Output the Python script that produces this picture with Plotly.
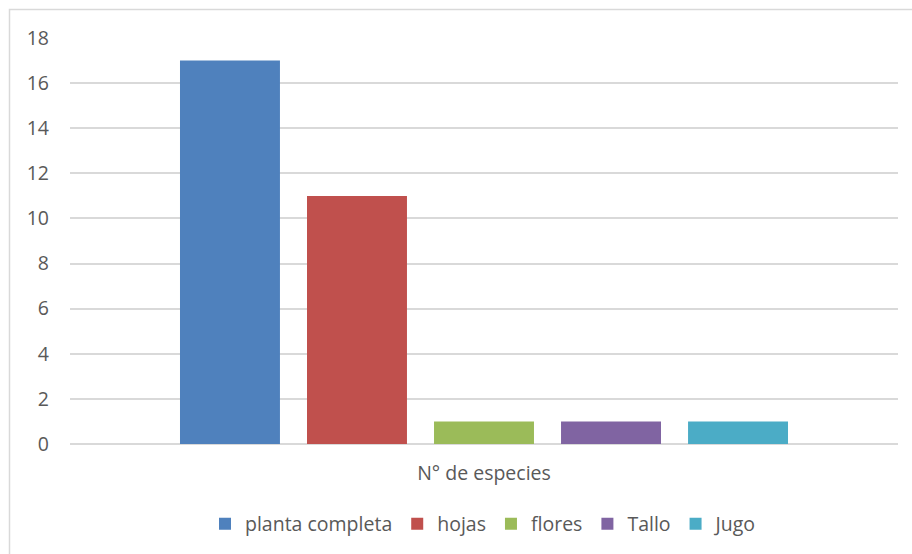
import plotly.graph_objects as go

category = ["N° de especies"]
series_names = ["planta completa", "hojas", "flores", "Tallo", "Jugo"]
series_values = [17, 11, 1, 1, 1]
series_colors = ["#4f81bd", "#c0504d", "#9bbb59", "#8064a2", "#4bacc6"]
y_ticks = [0, 2, 4, 6, 8, 10, 12, 14, 16, 18]

fig = go.Figure()
for name, val, col in zip(series_names, series_values, series_colors):
    fig.add_trace(go.Bar(x=category, y=[val], name=name, marker_color=col,
                         marker_line_width=0))

W, H = 912, 554
L, R, T, B = 70, 14, 38, 110
pw, ph = W - L - R, H - T - B

def px(x):
    return (x - L) / pw

def py(y):
    return (H - B - y) / ph

fig.add_shape(type="rect", xref="paper", yref="paper",
              x0=px(9.5), x1=px(930), y0=py(9.5), y1=py(580),
              line=dict(color="#d9d9d9", width=1.5), layer="below")

FONT = "Open Sans, Lato, sans-serif"
FS = 19.5
fig.update_layout(
    width=W, height=H,
    margin=dict(l=L, r=R, t=T, b=B),
    paper_bgcolor="white", plot_bgcolor="white",
    barmode="group", bargap=0.233, bargroupgap=0.213,
    font=dict(family=FONT, size=FS, color="#595959"),
    showlegend=True,
    legend=dict(orientation="h", xref="container", yref="container",
                x=484 / W, xanchor="center", y=(H - 524) / H, yanchor="middle",
                font=dict(family=FONT, size=FS, color="#595959"), itemwidth=30,
                traceorder="normal"),
    xaxis=dict(showgrid=False, showline=False, ticks="", ticklabelstandoff=15,
               automargin=False,
               tickfont=dict(family=FONT, size=FS, color="#595959")),
    yaxis=dict(range=[0, 18], tickvals=y_ticks, showgrid=True, gridcolor="#d9d9d9",
               gridwidth=1.5, zeroline=True, zerolinecolor="#d9d9d9", zerolinewidth=1.5,
               showline=False, ticks="", ticklabelstandoff=20, automargin=False,
               tickfont=dict(family=FONT, size=FS, color="#595959")),
)

fig.write_html("out.html")
